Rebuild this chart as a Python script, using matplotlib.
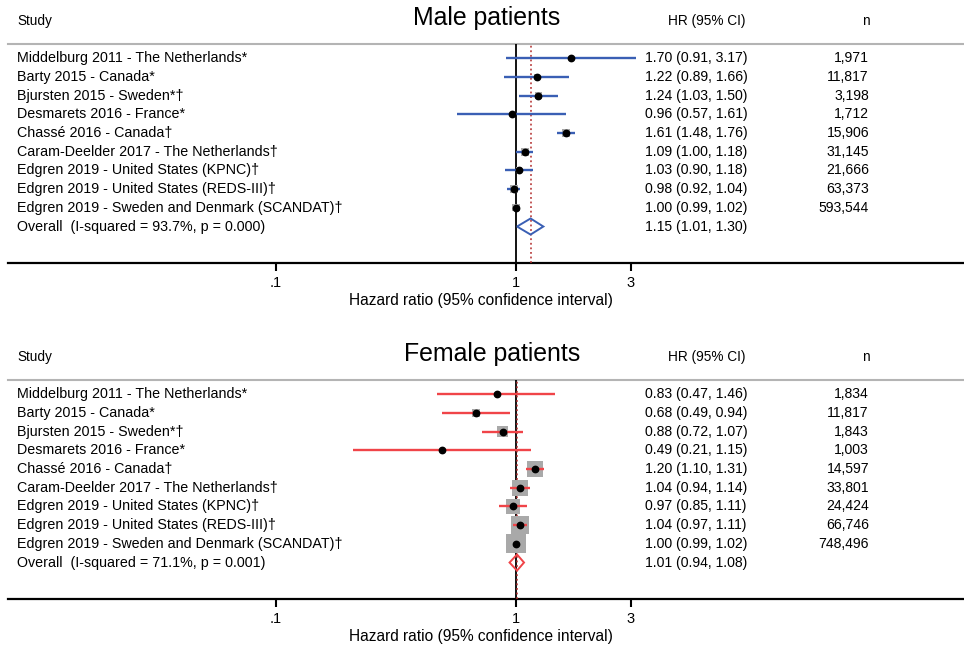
import matplotlib
matplotlib.use("Agg")
import matplotlib.pyplot as plt
import matplotlib.transforms as mtransforms
from matplotlib.patches import Polygon
from matplotlib.ticker import NullLocator

plt.rcParams["font.family"] = ["Liberation Sans", "DejaVu Sans"]

studies = [
    "Middelburg 2011 - The Netherlands*",
    "Barty 2015 - Canada*",
    "Bjursten 2015 - Sweden*\u2020",
    "Desmarets 2016 - France*",
    "Chass\u00e9 2016 - Canada\u2020",
    "Caram-Deelder 2017 - The Netherlands\u2020",
    "Edgren 2019 - United States (KPNC)\u2020",
    "Edgren 2019 - United States (REDS-III)\u2020",
    "Edgren 2019 - Sweden and Denmark (SCANDAT)\u2020",
]

# male patients
male_hr = [1.70, 1.22, 1.24, 0.96, 1.61, 1.09, 1.03, 0.98, 1.00]
male_lo = [0.91, 0.89, 1.03, 0.57, 1.48, 1.00, 0.90, 0.92, 0.99]
male_hi = [3.17, 1.66, 1.50, 1.61, 1.76, 1.18, 1.18, 1.04, 1.02]
male_n = ["1,971", "11,817", "3,198", "1,712", "15,906", "31,145", "21,666", "63,373", "593,544"]
male_weight = [1.5, 7.0, 12.0, 1.5, 17.8, 17.0, 10.0, 17.8, 13.6]
male_overall = (1.15, 1.01, 1.30)
male_i2 = "Overall  (I-squared = 93.7%, p = 0.000)"

# female patients
female_hr = [0.83, 0.68, 0.88, 0.49, 1.20, 1.04, 0.97, 1.04, 1.00]
female_lo = [0.47, 0.49, 0.72, 0.21, 1.10, 0.94, 0.85, 0.97, 0.99]
female_hi = [1.46, 0.94, 1.07, 1.15, 1.31, 1.14, 1.11, 1.11, 1.02]
female_n = ["1,834", "11,817", "1,843", "1,003", "14,597", "33,801", "24,424", "66,746", "748,496"]
female_weight = [0.5, 4.5, 8.0, 0.4, 16.5, 16.0, 12.5, 18.5, 22.9]
female_overall = (1.01, 0.94, 1.08)
female_i2 = "Overall  (I-squared = 71.1%, p = 0.001)"

ticks = [0.1, 1, 3]
tick_labels = [".1", "1", "3"]

W, H = 964, 646
fig = plt.figure(figsize=(W / 100, H / 100), dpi=100)

# pixel -> log10 scale: x=1 at 516 px, 240 px per decade
X1, DEC = 516.0, 240.0
AX_L, AX_R = 8, 964
xmin = 10 ** ((AX_L - X1) / DEC)
xmax = 10 ** ((AX_R - X1) / DEC)


def draw_panel(top, title, hr, lo, hi, nn, weight, overall, overall_txt,
               color, box_scale, title_x):
    bottom = top + 219
    ax = fig.add_axes([AX_L / W, 1 - bottom / H, (AX_R - AX_L) / W, 219 / H])
    ax.set_xscale("log")
    ax.set_xlim(xmin, xmax)
    ax.set_ylim(10.95, -0.76)
    ax.set_facecolor("none")
    for s in ["left", "right"]:
        ax.spines[s].set_visible(False)
    ax.spines["top"].set_color("#b4b4b4")
    ax.spines["top"].set_linewidth(1.5)
    ax.spines["bottom"].set_linewidth(1.6)
    ax.set_yticks([])
    ax.set_xticks(ticks)
    ax.set_xticklabels(tick_labels, fontsize=10.5)
    ax.xaxis.set_minor_locator(NullLocator())
    ax.tick_params(axis="x", length=5.5, width=1.5, pad=4)

    ax.axvline(1, color="black", lw=1.3, zorder=3)
    ax.axvline(overall[0], color="#b22a2a", lw=1.1, ls=(0, (1.2, 1.8)), zorder=3)

    rows = list(range(len(hr)))
    for i in rows:
        side = box_scale * weight[i] ** 0.5
        ax.scatter(hr[i], i, marker="s", s=side ** 2, color="#a9a9a9",
                   edgecolors="none", zorder=4)
        ax.plot([lo[i], hi[i]], [i, i], color=color, lw=1.7, zorder=5,
                solid_capstyle="butt")
        ax.plot(hr[i], i, "o", color="black", ms=4.6, zorder=6)

    oy = len(hr)
    est, olo, ohi = overall
    diamond = Polygon([(olo, oy), (est, oy - 0.43), (ohi, oy), (est, oy + 0.43)],
                      closed=True, fill=False, edgecolor=color, lw=1.4, zorder=6)
    ax.add_patch(diamond)

    tr = mtransforms.blended_transform_factory(fig.transFigure, ax.transData)
    names = studies + [overall_txt]
    hr_txt = [f"{h:.2f} ({l:.2f}, {u:.2f})" for h, l, u in zip(hr, lo, hi)]
    hr_txt.append(f"{est:.2f} ({olo:.2f}, {ohi:.2f})")
    for i, name in enumerate(names):
        ax.text(17 / W, i, name, transform=tr, ha="left", va="center", fontsize=10.3)
        ax.text(645 / W, i, hr_txt[i], transform=tr, ha="left", va="center", fontsize=10.1)
    for i, n in enumerate(nn):
        ax.text(869 / W, i, n, transform=tr, ha="right", va="center", fontsize=10.1)

    # header
    fig.text(17 / W, 1 - (top - 23) / H, "Study", ha="left", va="center", fontsize=9.8)
    fig.text(title_x / W, 1 - (top - 26) / H, title, ha="center", va="center", fontsize=17.9)
    fig.text(668 / W, 1 - (top - 23) / H, "HR (95% CI)", ha="left", va="center", fontsize=9.8)
    fig.text(866 / W, 1 - (top - 23) / H, "n", ha="center", va="center", fontsize=9.8)
    fig.text(481 / W, 1 - (bottom + 37) / H, "Hazard ratio (95% confidence interval)",
             ha="center", va="center", fontsize=11.2)
    return ax


draw_panel(44, "Male patients", male_hr, male_lo, male_hi, male_n, male_weight,
           male_overall, male_i2, "#3a5fb4", 1.4, 487)
draw_panel(380, "Female patients", female_hr, female_lo, female_hi, female_n, female_weight,
           female_overall, female_i2, "#f04448", 2.9, 492)

fig.savefig("out.png", dpi=100, facecolor="white")
